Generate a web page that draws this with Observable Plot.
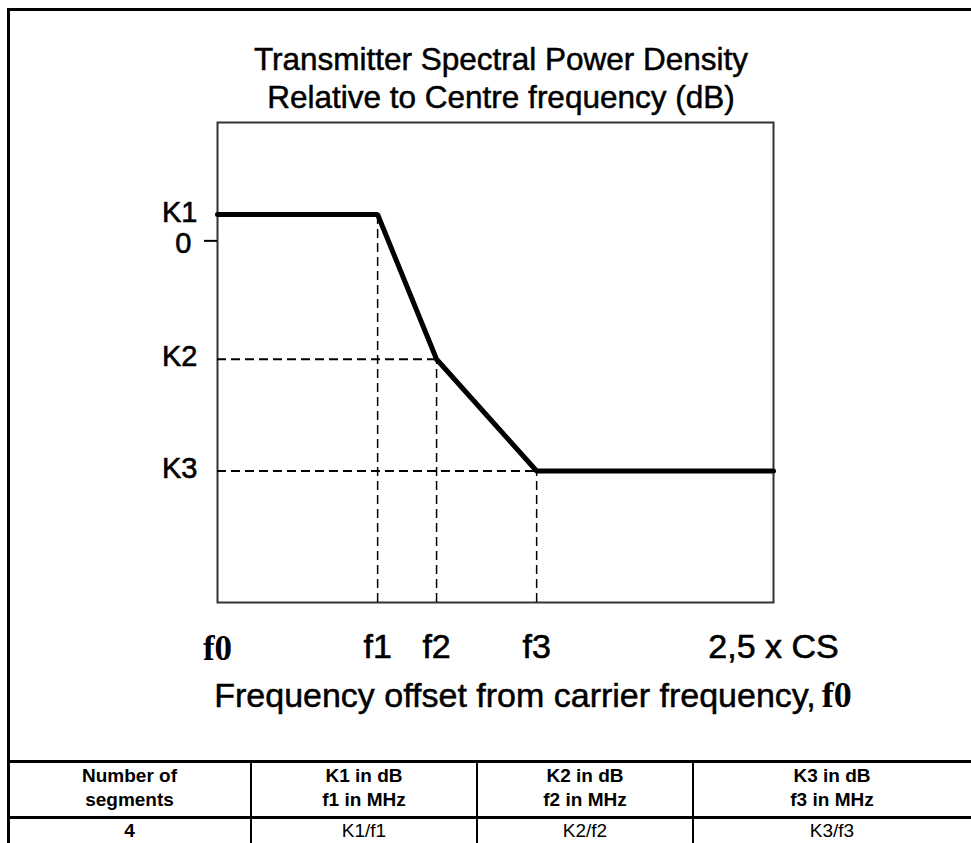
<!DOCTYPE html>
<html>
<head>
<meta charset="utf-8">
<script src="https://cdn.jsdelivr.net/npm/d3@7"></script>
<script src="https://cdn.jsdelivr.net/npm/@observablehq/plot@0.6"></script>
<style>
  html, body { margin: 0; padding: 0; background: #fff; }
  #page { position: relative; width: 971px; height: 843px; overflow: hidden; background: #fff; font-family: "Liberation Sans", Arial, sans-serif; color: #000; }
  .line { position: absolute; background: #000; }
  #title { position: absolute; left: 0; width: 1002px; top: 40px; text-align: center; font-size: 31.5px; line-height: 38px; -webkit-text-stroke: 0.5px #000; }
  #chart { position: absolute; left: 0; top: 0; }
  #xtitle { position: absolute; left: 0; width: 1066px; top: 675px; text-align: center; font-size: 34px; line-height: 40px; white-space: nowrap; -webkit-text-stroke: 0.5px #000; }
  #xtitle .serif { font-family: "Liberation Serif", "Times New Roman", serif; font-weight: bold; font-size: 36px; -webkit-text-stroke: 0; margin-left: 6px; }
  .cell { position: absolute; text-align: center; font-size: 19px; line-height: 24px; }
  .cell.bold { font-weight: bold; }
</style>
</head>
<body>
<div id="page">
  <div class="line" style="left:7px; top:8px; width:964px; height:3px;"></div>
  <div class="line" style="left:7px; top:8px; width:3px; height:835px;"></div>
  <div id="title"></div>
  <div id="chart"></div>
  <div id="xtitle"></div>
</div>
<script>
// ---- data ----
const titleLines = ["Transmitter Spectral Power Density", "Relative to Centre frequency (dB)"];
const xAxisTitle = "Frequency offset from carrier frequency,";
const xAxisTitleSymbol = "f0";

const xTickLabels = ["f0", "f1", "f2", "f3", "2,5 x CS"];
const xTickValues = [0, 0.72, 0.985, 1.435, 2.5];

const yTickLabels = ["K1", "0", "K2", "K3"];
const yTickValues = [2, 0, -9, -17.5];

const kValues = [2, -9, -17.5];
const fValues = [0.72, 0.985, 1.435];

const maskX = [0, 0.72, 0.985, 1.435, 2.5];
const maskY = [2, 2, -9, -17.5, -17.5];

const yDomain = [-27.5, 9];
const xDomain = [0, 2.5];

const tableHeader = [["Number of", "segments"], ["K1 in dB", "f1 in MHz"], ["K2 in dB", "f2 in MHz"], ["K3 in dB", "f3 in MHz"]];
const tableRow = ["4", "K1/f1", "K2/f2", "K3/f3"];

// ---- titles ----
document.getElementById("title").innerHTML = titleLines.map(t => `<div>${t}</div>`).join("");
document.getElementById("xtitle").innerHTML = `${xAxisTitle}<span class="serif">${xAxisTitleSymbol}</span>`;

// ---- chart ----
const mask = maskX.map((x, i) => ({x, y: maskY[i]}));
const verticals = fValues.map((f, i) => ({f, k: kValues[i]}));
const horizontals = fValues.slice(1).map((f, i) => ({f, k: kValues[i + 1]}));
const xTicks = xTickValues.map((v, i) => ({v, label: xTickLabels[i]}));
const yTicks = yTickValues.map((v, i) => ({v, label: yTickLabels[i]}));
const sans = "Liberation Sans, Arial, sans-serif";
const heavy = {fill: "#000", stroke: "#000", strokeWidth: 0.6, paintOrder: "fill"};

const chart = Plot.plot({
  width: 971,
  height: 720,
  marginLeft: 217,
  marginRight: 198,
  marginTop: 122,
  marginBottom: 118,
  x: {domain: xDomain, axis: null},
  y: {domain: yDomain, axis: null},
  style: {background: "transparent", overflow: "visible", fontFamily: sans, color: "#000"},
  marks: [
    Plot.frame({stroke: "#333", strokeWidth: 2}),
    Plot.ruleX(verticals, {x: "f", y1: yDomain[0], y2: "k", stroke: "#000", strokeWidth: 1.5, strokeDasharray: "9,5"}),
    Plot.ruleY(horizontals, {y: "k", x1: xDomain[0], x2: "f", stroke: "#000", strokeWidth: 2, strokeDasharray: "9,5"}),
    Plot.line(mask, {x: "x", y: "y", stroke: "#000", strokeWidth: 5, strokeLinejoin: "miter"}),
    Plot.axisY({ticks: [0], tickSize: 13, strokeWidth: 2, tickFormat: () => ""}),
    Plot.text(yTicks.filter(d => d.label !== "0"), {y: "v", text: "label", frameAnchor: "left", textAnchor: "end", dx: -20, dy: -2, fontSize: 29, fontFamily: sans, ...heavy}),
    Plot.text(yTicks.filter(d => d.label === "0"), {y: "v", text: "label", frameAnchor: "left", textAnchor: "end", dx: -26, dy: 3, fontSize: 29, fontFamily: sans, ...heavy}),
    Plot.text(xTicks.slice(1), {x: "v", text: "label", frameAnchor: "bottom", dy: 55, fontSize: 34, fontFamily: sans, ...heavy}),
    Plot.text(xTicks.slice(0, 1), {x: "v", text: "label", frameAnchor: "bottom", dy: 57, fontSize: 35, fontWeight: "bold", fontFamily: "Liberation Serif, Times New Roman, serif", fill: "#000"})
  ]
});
document.getElementById("chart").appendChild(chart);

// ---- table ----
const page = document.getElementById("page");
const colEdges = [8, 251, 477, 693, 971];
const rowTop = 761, rowMid = 817;
function addLine(l, t, w, h) {
  const d = document.createElement("div");
  d.className = "line";
  Object.assign(d.style, {left: l + "px", top: t + "px", width: w + "px", height: h + "px"});
  page.appendChild(d);
}
addLine(8, rowTop - 1, 963, 3);
addLine(8, rowMid - 1, 963, 3);
colEdges.slice(1, -1).forEach(x => addLine(x - 1, rowTop, 2, 843 - rowTop));
tableHeader.forEach((lines, i) => {
  const c = document.createElement("div");
  c.className = "cell bold";
  Object.assign(c.style, {left: colEdges[i] + "px", width: (colEdges[i + 1] - colEdges[i]) + "px", top: (rowTop + 3) + "px"});
  c.innerHTML = lines.map(s => `<div>${s}</div>`).join("");
  page.appendChild(c);
});
tableRow.forEach((s, i) => {
  const c = document.createElement("div");
  c.className = "cell" + (i === 0 ? " bold" : "");
  Object.assign(c.style, {left: colEdges[i] + "px", width: (colEdges[i + 1] - colEdges[i]) + "px", top: (rowMid + 2) + "px"});
  c.textContent = s;
  page.appendChild(c);
});
</script>
</body>
</html>
